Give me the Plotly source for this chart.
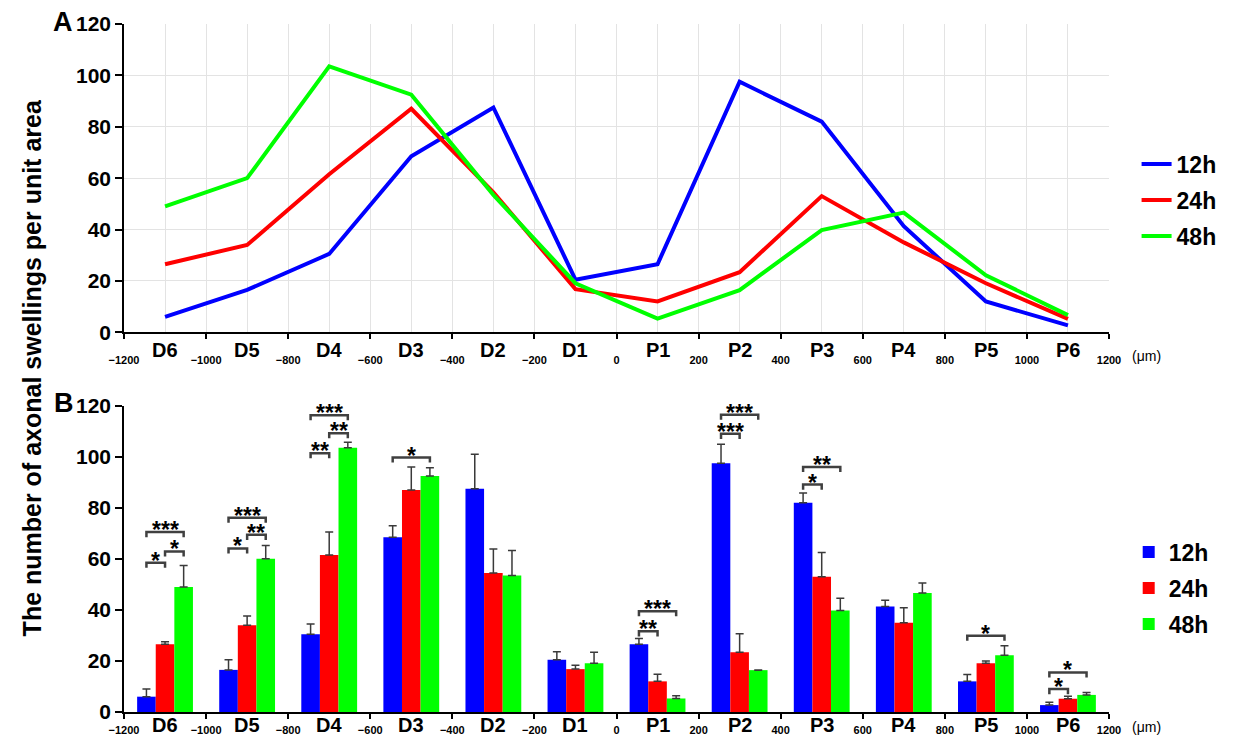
import plotly.graph_objects as go

# ---------------- data ----------------
categories = ["D6", "D5", "D4", "D3", "D2", "D1", "P1", "P2", "P3", "P4", "P5", "P6"]
positions_um = [-1100, -900, -700, -500, -300, -100, 100, 300, 500, 700, 900, 1100]
series_names = ["12h", "24h", "48h"]
values_12h = [6, 16.5, 30.5, 68.5, 87.5, 20.5, 26.5, 97.5, 82, 41.3, 12, 2.7]
values_24h = [26.5, 34, 61.5, 87, 54.5, 16.8, 12, 23.4, 53, 35, 19.1, 5.2]
values_48h = [49, 60, 103.5, 92.5, 53.5, 19.1, 5.3, 16.4, 39.8, 46.6, 22.2, 6.7]
sem_12h = [3, 4, 4, 4.5, 13.5, 3.1, 2.3, 7.4, 3.8, 2.5, 2.7, 1.1]
sem_24h = [1, 3.6, 9, 9, 9.4, 1.5, 2.8, 7.3, 9.5, 5.8, 0.9, 1.0]
sem_48h = [8.4, 5.2, 2.2, 3.2, 9.8, 4.3, 1.1, 0.1, 4.8, 3.9, 3.8, 0.9]
x_tick_values = [-1200, -1000, -800, -600, -400, -200, 0, 200, 400, 600, 800, 1000, 1200]
y_tick_values = [0, 20, 40, 60, 80, 100, 120]

# significance brackets: group, first series index, second series index, label, height
sig_group = ["D6", "D6", "D6", "D5", "D5", "D5", "D4", "D4", "D4", "D3",
             "P1", "P1", "P2", "P2", "P3", "P3", "P5", "P6", "P6"]
sig_from = [0, 1, 0, 0, 1, 0, 0, 1, 0, 0, 0, 0, 0, 0, 0, 0, 0, 0, 0]
sig_to = [1, 2, 2, 1, 2, 2, 1, 2, 2, 2, 1, 2, 1, 2, 1, 2, 2, 1, 2]
sig_label = ["*", "*", "***", "*", "**", "***", "**", "**", "***", "*",
             "**", "***", "***", "***", "*", "**", "*", "*", "*"]
sig_height = [58.5, 62.9, 70.5, 64.1, 69.4, 76.1, 101.4, 109.2, 116.3, 99.7,
              31.6, 39.5, 109.0, 116.5, 89.1, 96.0, 29.9, 9.0, 15.5]

colors = ["#0000FF", "#FF0000", "#00FF00"]
values = [values_12h, values_24h, values_48h]
sems = [sem_12h, sem_24h, sem_48h]

FONT = "Liberation Sans, Arial, sans-serif"
BARGAP = 0.32

fig = go.Figure()

# ---------------- panel A: lines ----------------
for name, col, vals in zip(series_names, colors, values):
    fig.add_trace(go.Scatter(
        x=positions_um, y=vals, mode="lines", name=name,
        line=dict(color=col, width=4),
        xaxis="x", yaxis="y", legend="legend", legendgroup="A" + name,
    ))

# ---------------- panel B: bars ----------------
for name, col, vals, err in zip(series_names, colors, values, sems):
    fig.add_trace(go.Bar(
        x=positions_um, y=vals, name=name,
        marker=dict(color=col, line=dict(width=0)),
        error_y=dict(type="data", symmetric=False, array=err,
                     arrayminus=[0] * len(err), color="#3a3a3a",
                     thickness=1.5, width=4),
        xaxis="x2", yaxis="y2", legend="legend2", legendgroup="B" + name,
    ))

# significance brackets
spacing = positions_um[1] - positions_um[0]
bar_w = spacing * (1 - BARGAP) / len(series_names)
shapes = []
annotations = []
leg = 2.0
for g, a, b, lab, h in zip(sig_group, sig_from, sig_to, sig_label, sig_height):
    c = positions_um[categories.index(g)]
    x1 = c + (a - 1) * bar_w
    x2 = c + (b - 1) * bar_w
    shapes.append(dict(
        type="path", xref="x2", yref="y2",
        path=f"M {x1},{h - leg} L {x1},{h} L {x2},{h} L {x2},{h - leg}",
        line=dict(color="#404040", width=2.5),
    ))
    annotations.append(dict(
        x=(x1 + x2) / 2, y=h, xref="x2", yref="y2", text=lab,
        showarrow=False, yanchor="bottom", yshift=-12, borderpad=0,
        font=dict(family=FONT, size=23, color="black", weight="bold"),
    ))

# category labels under each axis
for xr, yr, ys in (("x", "y domain", -18), ("x2", "y2 domain", -13)):
    for cat, pos in zip(categories, positions_um):
        annotations.append(dict(
            x=pos, y=0, xref=xr, yref=yr, text=cat, showarrow=False,
            yanchor="middle", yshift=ys,
            font=dict(family=FONT, size=20, color="black", weight="bold"),
        ))

# unit labels
for yr, ys in (("y domain", -24), ("y2 domain", -15)):
    annotations.append(dict(
        x=1.038, y=0, xref="paper", yref=yr, text="(μm)", showarrow=False,
        yanchor="middle", yshift=ys, xanchor="center",
        font=dict(family=FONT, size=14, color="black"),
    ))

# panel letters
annotations.append(dict(x=-0.062, y=1.003, xref="paper", yref="paper", text="A",
                        showarrow=False, xanchor="center", yanchor="middle",
                        font=dict(family=FONT, size=27, color="black", weight="bold")))
annotations.append(dict(x=-0.061, y=0.449, xref="paper", yref="paper", text="B",
                        showarrow=False, xanchor="center", yanchor="middle",
                        font=dict(family=FONT, size=27, color="black", weight="bold")))

# shared y title
annotations.append(dict(x=-0.093, y=0.50, xref="paper", yref="paper",
                        text="The number of axonal swellings per unit area",
                        textangle=-90, showarrow=False, xanchor="center", yanchor="middle",
                        font=dict(family=FONT, size=25, color="black", weight="bold")))

tickfont_y = dict(family=FONT, size=21, color="black", weight="bold")
tickfont_x = dict(family=FONT, size=11, color="black", weight="bold")

common_x = dict(range=[-1200, 1200], tickmode="array", tickvals=x_tick_values,
                showline=True, linecolor="black", linewidth=1.5,
                ticks="outside", ticklen=5, tickcolor="black", tickwidth=1.5,
                tickfont=tickfont_x, zeroline=False)
common_y = dict(range=[0, 120], tickmode="array", tickvals=y_tick_values,
                showline=True, linecolor="black", linewidth=1.5,
                ticks="outside", ticklen=7, tickcolor="black", tickwidth=1.5,
                tickfont=tickfont_y, zeroline=False, ticksuffix="\u2002\u2009")

fig.update_layout(
    width=1234, height=748,
    margin=dict(l=124, r=122, t=21, b=24),
    paper_bgcolor="white", plot_bgcolor="white",
    barmode="group", bargap=BARGAP, bargroupgap=0,
    showlegend=True,
    xaxis=dict(**common_x, domain=[0, 1], anchor="y", showgrid=True,
               gridcolor="#e3e3e3", gridwidth=1, ticklabelstandoff=12,
               minor=dict(dtick=100, tick0=0, showgrid=True, gridcolor="#e3e3e3", ticks="")),
    yaxis=dict(**common_y, domain=[0.5519, 1.0], anchor="x", showgrid=True,
               gridcolor="#e3e3e3", gridwidth=1),
    xaxis2=dict(**common_x, domain=[0, 1], anchor="y2", showgrid=False, ticklabelstandoff=2),
    yaxis2=dict(**common_y, domain=[0.0, 0.4452], anchor="x2", showgrid=False),
    legend=dict(x=1.028, y=0.744, xanchor="left", yanchor="middle",
                font=dict(family=FONT, size=23, color="black", weight="bold"),
                tracegroupgap=3, bgcolor="rgba(0,0,0,0)"),
    legend2=dict(x=1.02, y=0.18, xanchor="left", yanchor="middle",
                 font=dict(family=FONT, size=23, color="black", weight="bold"),
                 tracegroupgap=3, bgcolor="rgba(0,0,0,0)"),
    shapes=shapes,
    annotations=annotations,
)

fig.write_html("out.html")
